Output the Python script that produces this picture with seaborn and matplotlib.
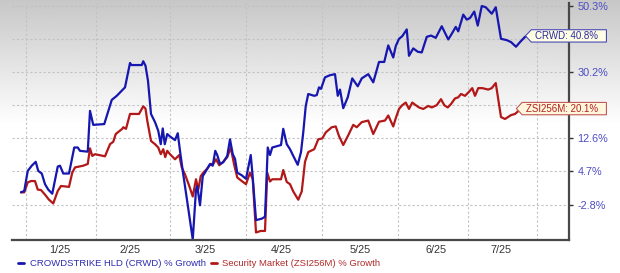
import numpy as np
import pandas as pd
import matplotlib
matplotlib.use("Agg")
import matplotlib.pyplot as plt
import matplotlib.transforms as mtransforms
from matplotlib.path import Path
from matplotlib.lines import Line2D
from matplotlib.ticker import NullLocator
import seaborn as sns

# ---------------- data ----------------
# x: trading-session position (approx. days since 30 Dec 2024), y: % growth
crwd_x = [0.2, 1.5, 2.9, 4.5, 6.1, 7.1, 8.5, 9.8, 11.1, 12.7,
          14.9, 15.8, 17.1, 19.4, 21.5, 22.9, 23.8, 26.9, 27.8, 29.1,
          33.5, 36.5, 38.5, 41.8, 43.8, 44.4, 48.5, 49.1, 50.0, 51.0,
          52.2, 53.8, 55.1, 56.1, 56.9, 57.7, 58.7, 59.8, 61.8, 62.9,
          63.8, 64.9, 66.2, 67.5, 68.9, 70.2, 70.7, 71.8, 72.9, 74.2,
          75.8, 76.9, 77.9, 78.7, 79.8, 81.1, 82.7, 83.8, 84.9, 85.8,
          86.7, 88.5, 90.2, 92.1, 92.9, 94.2, 96.5, 97.8, 98.9, 99.8,
          100.7, 104.2, 105.1, 106.5, 107.8, 109.1, 110.9, 112.2, 113.1, 114.1,
          115.1, 117.5, 118.5, 119.4, 120.2, 121.8, 123.8, 125.8, 126.9, 127.8,
          129.1, 130.9, 132.7, 134.9, 136.5, 139.1, 141.1, 143.4, 145.5, 147.1,
          149.1, 150.1, 151.4, 152.7, 154.5, 155.4, 157.1, 158.9, 160.5, 162.5,
          164.2, 166.1, 168.5, 169.8, 171.1, 172.7, 174.1, 175.1, 177.1, 178.5,
          179.8, 181.5, 182.9, 184.5, 186.1, 188.5, 190.1, 192.2, 194.5, 196.2,
          198.2, 199.8, 201.8, 202.9]
crwd_pct = [0.0, 0.3, 4.8, 6.0, 6.9, 4.8, 4.2, 1.8, 0.6, -0.3,
            5.8, 6.0, 4.2, 4.2, 10.3, 10.3, 9.5, 9.3, 19.5, 15.9,
            16.1, 22.4, 23.5, 25.8, 32.7, 32.1, 32.1, 33.2, 31.9, 27.6,
            18.7, 16.6, 14.4, 11.1, 15.0, 11.1, 13.6, 13.0, 12.1, 13.8,
            9.5, 4.8, -0.1, -4.9, -9.8, 0.6, 1.4, -2.8, 3.6, 4.8,
            6.4, 6.0, 9.5, 8.5, 6.4, 6.8, 8.3, 12.3, 8.7, 7.6,
            4.4, 3.8, 3.0, 8.5, 3.3, -5.9, -5.6, -5.2, 10.3, 8.5,
            10.3, 10.9, 14.9, 11.1, 9.9, 8.3, 6.2, 9.2, 14.0, 20.8,
            24.0, 23.5, 23.7, 25.8, 25.4, 28.6, 29.2, 29.5, 23.5, 25.2,
            20.2, 23.1, 28.3, 26.1, 28.3, 29.5, 27.2, 33.0, 33.0, 37.9,
            34.3, 37.7, 39.9, 40.7, 42.8, 34.8, 37.0, 36.0, 35.8, 40.5,
            40.9, 40.2, 43.8, 41.7, 39.7, 41.7, 43.6, 42.2, 47.5, 45.9,
            46.4, 48.5, 44.0, 50.3, 49.9, 47.8, 49.9, 39.9, 39.5, 38.9,
            37.5, 38.9, 40.5, 40.8]
zsi_x = [0.2, 1.5, 2.9, 4.2, 5.8, 6.9, 8.2, 9.8, 11.4, 13.1,
         14.9, 16.2, 19.4, 20.7, 21.8, 25.1, 26.9, 27.8, 28.7, 29.8,
         33.8, 35.8, 37.1, 38.1, 40.7, 41.1, 42.2, 43.8, 47.4, 49.1,
         50.0, 50.7, 52.2, 53.8, 55.1, 56.1, 57.1, 57.9, 58.7, 59.8,
         61.8, 63.5, 64.5, 65.8, 67.5, 68.9, 70.2, 71.1, 72.1, 73.1,
         74.5, 76.1, 77.1, 78.2, 79.5, 80.9, 82.7, 84.1, 85.4, 86.7,
         88.5, 90.2, 91.8, 92.9, 94.2, 96.1, 97.8, 98.7, 99.8, 100.7,
         104.2, 105.1, 106.5, 107.8, 109.1, 111.1, 112.5, 113.8, 115.1, 117.5,
         119.1, 120.7, 122.1, 124.5, 126.1, 127.4, 129.1, 131.1, 133.1, 134.5,
         136.5, 139.1, 141.1, 143.4, 145.8, 147.1, 149.1, 150.1, 151.4, 152.7,
         154.1, 155.4, 156.7, 158.1, 159.4, 161.1, 163.1, 164.5, 166.5, 168.2,
         169.5, 170.9, 172.2, 173.8, 175.1, 176.2, 177.8, 179.4, 180.7, 181.8,
         183.1, 184.7, 187.1, 188.5, 190.1, 192.2, 193.8, 196.2, 197.8, 199.4,
         200.7, 202.9]
zsi_pct = [0.0, 0.0, 2.2, 2.5, 2.5, 0.6, 0.5, -0.5, -1.6, -2.4,
           0.3, 1.4, 1.2, 4.4, 5.6, 6.0, 6.4, 10.1, 8.3, 8.7,
           8.2, 11.1, 11.7, 13.6, 14.9, 15.3, 14.9, 18.7, 18.7, 20.7,
           20.1, 17.0, 11.9, 11.1, 10.3, 8.7, 9.9, 8.0, 9.5, 8.7,
           7.5, 8.5, 5.6, 4.0, 1.4, -0.9, 2.9, 0.6, 3.6, 4.4,
           5.2, 6.4, 6.4, 7.5, 6.1, 6.8, 8.0, 10.3, 6.4, 3.3,
           2.5, 1.8, 4.4, 2.9, -8.4, -8.1, -8.1, 4.4, 2.4, 2.9,
           2.9, 5.0, 2.3, 1.8, 0.2, -1.6, 0.2, 6.9, 9.2, 9.9,
           12.3, 12.5, 14.0, 15.3, 15.5, 13.1, 10.9, 13.3, 15.9, 15.3,
           16.6, 17.0, 13.6, 16.7, 17.0, 18.3, 15.5, 17.6, 20.0, 21.0,
           21.7, 20.0, 21.7, 21.0, 20.4, 20.0, 20.8, 20.4, 21.0, 22.6,
           21.0, 20.4, 21.3, 22.8, 23.1, 24.0, 23.5, 24.6, 25.6, 23.5,
           25.6, 25.6, 25.2, 25.6, 27.0, 17.9, 17.4, 18.4, 18.7, 19.6,
           20.2, 20.1]

series_names = ["CROWDSTRIKE HLD (CRWD) % Growth",
                "Security Market (ZSI256M) % Growth"]
end_tags = ["CRWD: 40.8%", "ZSI256M: 20.1%"]
month_bounds = [2.1, 30.1, 59.6, 90.1, 120.7, 150.9, 178.9, 206.6]
month_label_pos = [15.8, 43.8, 73.8, 104.2, 135.8, 166.2, 192.2]
month_labels = ["1/25", "2/25", "3/25", "4/25", "5/25", "6/25", "7/25"]
y_ticks = [-2.8, 4.7, 12.6, 21.1, 30.2, 39.9, 50.3]
# labels of the 21.1 / 39.9 ticks are hidden behind the end tags in the reference
y_tick_labels = ["-2.8%", "4.7%", "12.6%", "", "30.2%", "", "50.3%"]

assert len(crwd_x) == len(crwd_pct)
assert len(zsi_x) == len(zsi_pct)

# ---------------- style ----------------
BLUE = "#1616b0"
RED = "#b21818"

sns.set_theme(style="white")
plt.rcParams['font.family'] = ['Liberation Sans', 'DejaVu Sans']

fig = plt.figure(figsize=(6.2, 2.73), dpi=100)

# background gradient (grey at top fading to white)
bg = fig.add_axes([0, 0, 1, 1], zorder=-10)
rows = np.arange(273)
shade = np.clip(0.78 + 0.22 * rows / 125.0, 0, 1)
bg.imshow(shade[:, None], aspect='auto', cmap='gray', vmin=0, vmax=1,
          extent=[0, 1, 0, 1], origin='upper', interpolation='bilinear')
bg.set_axis_off()

ax = fig.add_axes([12 / 620, 33 / 273, 557 / 620, 237 / 273])
ax.set_facecolor('none')

df = pd.concat([
    pd.DataFrame({'x': zsi_x, 'pct': zsi_pct, 'series': series_names[1]}),
    pd.DataFrame({'x': crwd_x, 'pct': crwd_pct, 'series': series_names[0]}),
], ignore_index=True)

sns.lineplot(data=df, x='x', y='pct', hue='series',
             hue_order=[series_names[1], series_names[0]],
             palette={series_names[0]: BLUE, series_names[1]: RED},
             estimator=None, errorbar=None, linewidth=1.6, legend=False, ax=ax)


def fwd(p):
    return np.log1p(np.asarray(p, dtype=float) / 100.0)


def inv(v):
    return np.expm1(np.asarray(v, dtype=float)) * 100.0


ax.set_yscale('function', functions=(fwd, inv))
ax.set_ylim(-9.9, 51.3)
ax.set_xlim(-3.4, 219.4)
ax.set_xlabel("")
ax.set_ylabel("")

ax.set_yticks(y_ticks)
ax.set_yticklabels(y_tick_labels)
ax.yaxis.set_minor_locator(NullLocator())
ax.yaxis.tick_right()
ax.tick_params(axis='y', which='major', direction='out', length=3, width=1,
               color='#333333', pad=3, labelsize=7.8, labelcolor='#4b4bc4',
               right=True, left=False)

ax.set_xticks(month_bounds)
ax.set_xticklabels([])
ax.set_xticks(month_label_pos, minor=True)
ax.set_xticklabels(month_labels, minor=True)
ax.tick_params(axis='x', which='both', length=0, pad=3.5, labelsize=7.8,
               labelcolor='#333333', bottom=True)

ax.grid(True, which='major', axis='both', color='#c2c2c2',
        linestyle=(0, (2, 2)), linewidth=0.8)
ax.set_axisbelow(True)

for s in ['left', 'top']:
    ax.spines[s].set_visible(False)
for s in ['right', 'bottom']:
    ax.spines[s].set_visible(True)
    ax.spines[s].set_color('#484848')
    ax.spines[s].set_linewidth(1.6)


# tag-shaped box for the end labels
def tag_box(x0, y0, width, height, mutation_size):
    padl = 0.35 * mutation_size
    padr = 0.9 * mutation_size
    padv = 0.12 * mutation_size
    tip = 0.6 * mutation_size
    xl, xr = x0 - padl, x0 + width + padr
    yb, yt = y0 - padv, y0 + height + padv
    ym = 0.5 * (yb + yt)
    verts = [(xl, yb), (xr, yb), (xr, yt), (xl, yt), (xl - tip, ym), (xl, yb)]
    return Path(verts, closed=True)


blend = mtransforms.blended_transform_factory(ax.transAxes, ax.transData)
tag_specs = [
    (crwd_pct[-1], end_tags[0], "#2a2aa0", "#4a4ab8", "#fffde4"),
    (zsi_pct[-1], end_tags[1], "#b02020", "#c25a5a", "#fff6dc"),
]
for yv, label, tc, ec, fc in tag_specs:
    ax.text(1.0515, yv, label, transform=blend, ha='right', va='center',
            fontsize=7.0, color=tc, zorder=6, clip_on=False,
            bbox=dict(boxstyle=tag_box, fc=fc, ec=ec, lw=0.8))

# legend below the chart
handles = [Line2D([], [], color=BLUE, lw=2), Line2D([], [], color=RED, lw=2)]
fig.legend(handles, series_names, loc='center left',
           bbox_to_anchor=(18 / 620, 1 - 263.5 / 273), ncol=2, frameon=False,
           fontsize=6.8, handlelength=0.65, handletextpad=0.6,
           columnspacing=0.5, borderpad=0, borderaxespad=0,
           labelcolor=["#2c2cb0", "#b02a2a"])

fig.savefig("out.png", dpi=100)
